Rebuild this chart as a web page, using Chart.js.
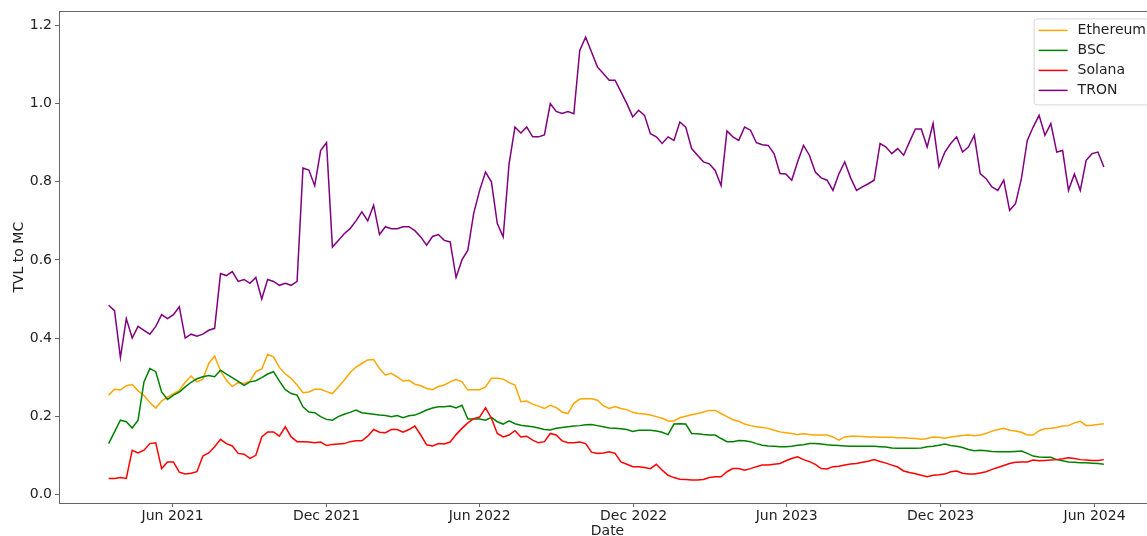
<!DOCTYPE html>
<html>
<head>
<meta charset="utf-8">
<script src="https://cdn.jsdelivr.net/npm/chart.js@4.4.1/dist/chart.umd.min.js"></script>
<style>
  html, body { margin: 0; padding: 0; background: #fff; overflow: hidden; }
  #wrap { width: 1147px; height: 536px; overflow: hidden; }
</style>
</head>
<body>
<div id="wrap"><canvas id="chart" width="1170" height="536"></canvas></div>
<script>
// ---------- DATI ----------
// campioni settimanali a partire dal 17 mar 2021
const startDate = '2021-03-17';
const stepDays = 7;

const ethereum = [
  0.254, 0.269, 0.267, 0.278, 0.281, 0.265, 0.253, 0.235, 0.221, 0.239,
  0.249, 0.258, 0.266, 0.287, 0.303, 0.288, 0.295, 0.335, 0.354, 0.316,
  0.292, 0.276, 0.286, 0.284, 0.290, 0.314, 0.321, 0.358, 0.352, 0.325,
  0.308, 0.297, 0.280, 0.260, 0.262, 0.269, 0.269, 0.263, 0.258, 0.275,
  0.292, 0.312, 0.326, 0.335, 0.344, 0.345, 0.322, 0.305, 0.310, 0.301,
  0.290, 0.292, 0.282, 0.278, 0.271, 0.268, 0.276, 0.280, 0.288, 0.294,
  0.288, 0.267, 0.268, 0.268, 0.275, 0.297, 0.297, 0.295, 0.286, 0.280,
  0.237, 0.239, 0.231, 0.226, 0.220, 0.228, 0.222, 0.211, 0.207, 0.233,
  0.244, 0.245, 0.245, 0.241, 0.227, 0.220, 0.225, 0.220, 0.217, 0.210,
  0.207, 0.206, 0.203, 0.199, 0.195, 0.188, 0.188, 0.196, 0.200, 0.204,
  0.207, 0.211, 0.215, 0.215, 0.207, 0.199, 0.191, 0.187, 0.180, 0.176,
  0.173, 0.171, 0.169, 0.164, 0.160, 0.158, 0.156, 0.153, 0.155, 0.153,
  0.152, 0.152, 0.152, 0.147, 0.139, 0.147, 0.149, 0.149, 0.148, 0.147,
  0.147, 0.146, 0.146, 0.146, 0.145, 0.145, 0.144, 0.143, 0.141, 0.143,
  0.147, 0.146, 0.144, 0.147, 0.149, 0.151, 0.152, 0.150, 0.152, 0.156,
  0.162, 0.166, 0.169, 0.164, 0.162, 0.159, 0.152, 0.152, 0.163, 0.168,
  0.169, 0.171, 0.175, 0.176, 0.183, 0.187, 0.176, 0.177, 0.179, 0.181
];

const bsc = [
  0.130, 0.160, 0.190, 0.186, 0.170, 0.190, 0.288, 0.322, 0.314, 0.262,
  0.243, 0.254, 0.262, 0.275, 0.287, 0.296, 0.301, 0.304, 0.301, 0.318,
  0.308, 0.299, 0.289, 0.279, 0.288, 0.291, 0.299, 0.308, 0.314, 0.290,
  0.268, 0.258, 0.254, 0.224, 0.211, 0.209, 0.199, 0.192, 0.190, 0.199,
  0.205, 0.210, 0.216, 0.209, 0.207, 0.205, 0.203, 0.202, 0.199, 0.202,
  0.196, 0.201, 0.203, 0.209, 0.216, 0.221, 0.224, 0.224, 0.226, 0.221,
  0.228, 0.193, 0.193, 0.193, 0.190, 0.197, 0.186, 0.180, 0.188, 0.181,
  0.177, 0.175, 0.173, 0.170, 0.166, 0.165, 0.169, 0.171, 0.173, 0.175,
  0.176, 0.178, 0.179, 0.176, 0.173, 0.170, 0.169, 0.168, 0.166, 0.161,
  0.164, 0.164, 0.164, 0.162, 0.159, 0.153, 0.180, 0.181, 0.180, 0.156,
  0.155, 0.153, 0.152, 0.152, 0.143, 0.135, 0.135, 0.138, 0.137, 0.135,
  0.130, 0.126, 0.124, 0.123, 0.122, 0.122, 0.123, 0.126, 0.127, 0.130,
  0.130, 0.129, 0.127, 0.126, 0.125, 0.124, 0.123, 0.123, 0.123, 0.123,
  0.123, 0.122, 0.121, 0.119, 0.118, 0.118, 0.118, 0.118, 0.119, 0.122,
  0.123, 0.126, 0.129, 0.125, 0.123, 0.120, 0.115, 0.112, 0.113, 0.112,
  0.110, 0.109, 0.109, 0.109, 0.110, 0.111, 0.105, 0.098, 0.096, 0.095,
  0.095, 0.089, 0.086, 0.083, 0.082, 0.081, 0.081, 0.080, 0.079, 0.077
];

const solana = [
  0.041, 0.041, 0.043, 0.041, 0.113, 0.106, 0.113, 0.130, 0.132, 0.066,
  0.083, 0.083, 0.057, 0.052, 0.054, 0.058, 0.098, 0.106, 0.122, 0.141,
  0.130, 0.124, 0.105, 0.103, 0.092, 0.100, 0.147, 0.160, 0.160, 0.149,
  0.173, 0.147, 0.135, 0.135, 0.134, 0.132, 0.134, 0.125, 0.128, 0.129,
  0.130, 0.135, 0.137, 0.137, 0.149, 0.166, 0.159, 0.158, 0.166, 0.166,
  0.159, 0.166, 0.175, 0.152, 0.127, 0.124, 0.130, 0.129, 0.134, 0.153,
  0.169, 0.183, 0.194, 0.198, 0.222, 0.195, 0.156, 0.147, 0.152, 0.163,
  0.147, 0.149, 0.139, 0.132, 0.135, 0.156, 0.152, 0.137, 0.132, 0.132,
  0.134, 0.130, 0.108, 0.105, 0.106, 0.109, 0.105, 0.083, 0.077, 0.071,
  0.071, 0.069, 0.066, 0.077, 0.062, 0.049, 0.043, 0.039, 0.038, 0.037,
  0.037, 0.038, 0.043, 0.045, 0.045, 0.058, 0.066, 0.066, 0.062, 0.066,
  0.071, 0.075, 0.075, 0.077, 0.079, 0.086, 0.092, 0.096, 0.089, 0.084,
  0.077, 0.066, 0.065, 0.071, 0.072, 0.075, 0.078, 0.079, 0.082, 0.085,
  0.089, 0.084, 0.080, 0.075, 0.070, 0.060, 0.056, 0.053, 0.049, 0.045,
  0.049, 0.050, 0.052, 0.058, 0.060, 0.054, 0.052, 0.052, 0.055, 0.058,
  0.064, 0.069, 0.074, 0.079, 0.082, 0.083, 0.083, 0.088, 0.086, 0.087,
  0.088, 0.089, 0.091, 0.094, 0.092, 0.089, 0.088, 0.087, 0.087, 0.089
];

const tron = [
  0.484, 0.470, 0.350, 0.450, 0.400, 0.430, 0.420, 0.410, 0.430, 0.460,
  0.450, 0.460, 0.480, 0.400, 0.410, 0.405, 0.410, 0.420, 0.425, 0.565,
  0.560, 0.570, 0.545, 0.550, 0.540, 0.555, 0.500, 0.550, 0.545, 0.535,
  0.540, 0.535, 0.545, 0.835, 0.830, 0.790, 0.880, 0.900, 0.633, 0.650,
  0.667, 0.680, 0.700, 0.723, 0.700, 0.740, 0.665, 0.685, 0.680, 0.680,
  0.685, 0.685, 0.675, 0.659, 0.638, 0.660, 0.665, 0.650, 0.646, 0.555,
  0.600, 0.625, 0.720, 0.778, 0.825, 0.800, 0.693, 0.659, 0.846, 0.940,
  0.925, 0.940, 0.915, 0.915, 0.920, 1.000, 0.980, 0.975, 0.980, 0.974,
  1.136, 1.170, 1.132, 1.094, 1.077, 1.060, 1.060, 1.030, 1.000, 0.966,
  0.983, 0.970, 0.923, 0.915, 0.898, 0.915, 0.906, 0.953, 0.940, 0.885,
  0.868, 0.851, 0.846, 0.829, 0.790, 0.930, 0.915, 0.906, 0.940, 0.932,
  0.900, 0.895, 0.893, 0.872, 0.821, 0.820, 0.804, 0.851, 0.893, 0.868,
  0.825, 0.810, 0.804, 0.778, 0.820, 0.851, 0.810, 0.778, 0.787, 0.795,
  0.804, 0.898, 0.889, 0.872, 0.885, 0.868, 0.902, 0.935, 0.935, 0.889,
  0.949, 0.838, 0.876, 0.898, 0.915, 0.876, 0.889, 0.919, 0.821, 0.808,
  0.787, 0.778, 0.804, 0.727, 0.744, 0.808, 0.906, 0.940, 0.970, 0.919,
  0.949, 0.876, 0.880, 0.778, 0.820, 0.778, 0.855, 0.872, 0.876, 0.838
];

const tickDates = ['2021-06-01', '2021-12-01', '2022-06-01', '2022-12-01', '2023-06-01', '2023-12-01', '2024-06-01'];
const tickLabels = ['Jun 2021', 'Dec 2021', 'Jun 2022', 'Dec 2022', 'Jun 2023', 'Dec 2023', 'Jun 2024'];
const yTicks = [0, 0.2, 0.4, 0.6, 0.8, 1.0, 1.2];

// ---------- ASSI / STILE ----------
const dayOf = s => Date.parse(s + 'T00:00:00Z') / 86400000;
const startDay = dayOf(startDate);
const tickDays = tickDates.map(dayOf);
const toPoints = vals => vals.map((v, i) => ({ x: startDay + i * stepDays, y: v }));

const FONT = { family: 'DejaVu Sans', size: 14 };
const TXT = '#222';
const SPINE = '#666';

const frame = {
  id: 'frame',
  afterDraw(chart) {
    const { ctx, chartArea: a } = chart;
    ctx.save();
    ctx.strokeStyle = SPINE;
    ctx.lineWidth = 1;
    ctx.strokeRect(Math.round(a.left) + 0.5, Math.round(a.top) + 0.5,
                   Math.round(a.right - a.left), Math.round(a.bottom - a.top));

    // legenda stile matplotlib in alto a destra
    const ds = chart.data.datasets;
    ctx.font = '14px "DejaVu Sans"';
    const textW = Math.max(...ds.map(d => ctx.measureText(d.label).width));
    const rowH = 20, pad = 5, handle = 29, gap = 10;
    const w = pad + handle + gap + textW + pad;
    const h = pad * 2 + rowH * ds.length - 4;
    const x0 = a.right - 5 - w, y0 = a.top + 7;
    ctx.beginPath();
    ctx.roundRect(x0 + 0.5, y0 + 0.5, w, h, 3);
    ctx.fillStyle = 'rgba(255,255,255,0.8)';
    ctx.fill();
    ctx.strokeStyle = '#d6d6d6';
    ctx.stroke();
    ds.forEach((d, i) => {
      const cy = y0 + pad + 7 + i * rowH;
      ctx.strokeStyle = d.borderColor;
      ctx.lineWidth = 1.5;
      ctx.beginPath();
      ctx.moveTo(x0 + pad, cy);
      ctx.lineTo(x0 + pad + handle, cy);
      ctx.stroke();
      ctx.fillStyle = TXT;
      ctx.textBaseline = 'middle';
      ctx.textAlign = 'left';
      ctx.fillText(d.label, x0 + pad + handle + gap, cy);
    });
    ctx.restore();
  }
};

const series = [
  { label: 'Ethereum', data: ethereum, color: '#FFA500', order: 4 },
  { label: 'BSC', data: bsc, color: '#008000', order: 3 },
  { label: 'Solana', data: solana, color: '#FF0000', order: 2 },
  { label: 'TRON', data: tron, color: '#800080', order: 1 },
];

new Chart(document.getElementById('chart'), {
  type: 'line',
  data: {
    datasets: series.map(s => ({
      label: s.label,
      data: toPoints(s.data),
      borderColor: s.color,
      backgroundColor: s.color,
      borderWidth: 1.5,
      pointRadius: 0,
      tension: 0,
      order: s.order,
    }))
  },
  options: {
    responsive: false,
    animation: false,
    layout: { padding: { top: 11, right: 14, bottom: 0, left: 0 } },
    plugins: { legend: { display: false }, tooltip: { enabled: false } },
    scales: {
      x: {
        type: 'linear',
        min: dayOf('2021-01-17'),
        max: dayOf('2024-08-13'),
        afterBuildTicks: s => { s.ticks = tickDays.map(v => ({ value: v })); },
        afterFit: s => { s.height = 33; },
        ticks: {
          callback: (v, i) => tickLabels[i],
          autoSkip: false, maxRotation: 0, font: FONT, color: TXT, padding: 1,
        },
        grid: { drawOnChartArea: false, drawTicks: true, tickLength: 4, color: SPINE },
        border: { display: false },
        title: { display: true, text: 'Date', font: FONT, color: TXT, padding: { top: 0, bottom: -4 } },
      },
      y: {
        min: -0.022,
        max: 1.236,
        afterBuildTicks: s => { s.ticks = yTicks.map(v => ({ value: v })); },
        afterFit: s => { s.width = 59; },
        ticks: { callback: v => v.toFixed(1), font: FONT, color: TXT, padding: 3 },
        grid: { drawOnChartArea: false, drawTicks: true, tickLength: 4, color: SPINE },
        border: { display: false },
        title: { display: true, text: 'TVL to MC', font: FONT, color: TXT, padding: { top: 11, bottom: 0 } },
      }
    }
  },
  plugins: [frame]
});
</script>
</body>
</html>
